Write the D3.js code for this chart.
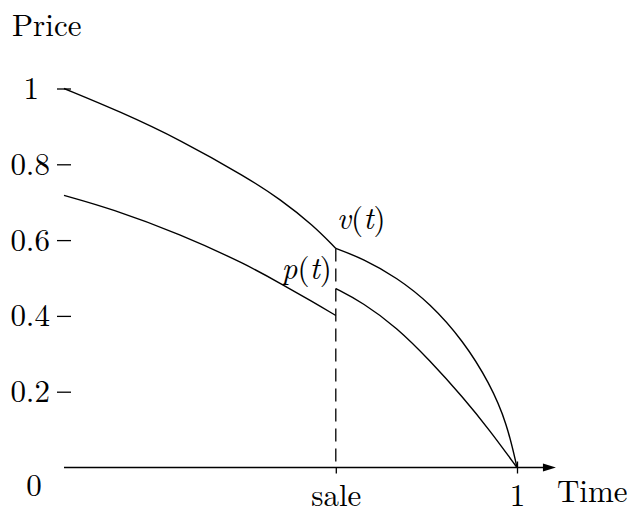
<!DOCTYPE html>
<html>
<head>
<meta charset="utf-8">
<script src="https://cdn.jsdelivr.net/npm/d3@7"></script>
<style>
  html, body { margin: 0; padding: 0; background: #fff; }
  svg { display: block; }
</style>
</head>
<body>
<svg id="chart" width="627" height="506"></svg>
<script>
// values
const SALE = 0.6;

const timeV1 = [0, 0.124, 0.256, 0.404, 0.477, 0.55, 0.6];
const valueV1 = [1.0, 0.939, 0.865, 0.765, 0.708, 0.639, 0.578];

const timeV2 = [0.6, 0.66, 0.735, 0.808, 0.881, 0.94, 0.978, 1];
const valueV2 = [0.578, 0.551, 0.501, 0.433, 0.335, 0.222, 0.116, 0];

const timeP1 = [0, 0.104, 0.256, 0.404, 0.477, 0.55, 0.6];
const valueP1 = [0.718, 0.683, 0.616, 0.535, 0.486, 0.437, 0.401];

const timeP2 = [0.6, 0.66, 0.735, 0.808, 0.881, 0.94, 1];
const valueP2 = [0.472, 0.435, 0.369, 0.282, 0.185, 0.098, 0];

const yTicks = [0.2, 0.4, 0.6, 0.8, 1];
const xTicks = [SALE, 1];
const xTickLabels = ["sale", "1"];
const X_END = 1.086; // where the arrow tip sits

const FONT = '"Latin Modern Roman", "Liberation Serif", serif';
const FONT_SIZE = "31px";

const svg = d3.select("#chart");

const x = d3.scaleLinear().domain([0, 1]).range([64, 517]);
const y = d3.scaleLinear().domain([0, 1]).range([467.5, 88.5]);

const line = d3
  .line()
  .x((d) => x(d[0]))
  .y((d) => y(d[1]))
  .curve(d3.curveBasis);

function zipSeries(ts, vs) {
  return ts.map((t, i) => [t, vs[i]]);
}

function styleText(sel) {
  return sel
    .style("font-family", FONT)
    .style("font-size", FONT_SIZE)
    .attr("fill", "#000");
}

// y ticks: short dashes, no axis line
const yAxis = svg
  .append("g")
  .attr("transform", `translate(${x(0) + 7},0)`)
  .call(
    d3
      .axisLeft(y)
      .tickValues(yTicks)
      .tickSize(14)
      .tickPadding(7)
      .tickFormat(d3.format("")),
  );
yAxis.select(".domain").remove();
yAxis.selectAll(".tick line").attr("stroke", "#000").attr("stroke-width", 1.3);
yAxis
  .selectAll(".tick text")
  .call(styleText)
  .attr("x", (d) => (d === 1 ? -32 : -21));

// x axis with arrow
svg
  .append("line")
  .attr("x1", x(0))
  .attr("x2", x(X_END) - 8)
  .attr("y1", y(0))
  .attr("y2", y(0))
  .attr("stroke", "#000")
  .attr("stroke-width", 1.3);

svg
  .append("path")
  .attr(
    "d",
    `M${x(X_END)},${y(0)} L${x(X_END) - 13},${y(0) - 4} L${x(X_END) - 13},${y(0) + 4} Z`,
  )
  .attr("fill", "#000");

const xAxis = svg
  .append("g")
  .attr("transform", `translate(0,${y(0)})`)
  .call(
    d3
      .axisBottom(x)
      .tickValues(xTicks)
      .tickSize(6)
      .tickPadding(10)
      .tickFormat((d, i) => xTickLabels[i]),
  );
xAxis.select(".domain").remove();
xAxis
  .selectAll(".tick line")
  .attr("stroke", "#000")
  .attr("stroke-width", 1.3)
  .attr("y1", (d) => (d === 1 ? -6 : 0));
xAxis.selectAll(".tick text").call(styleText);

// dashed line at the sale
svg
  .append("line")
  .attr("x1", x(SALE))
  .attr("x2", x(SALE))
  .attr("y1", y(valueV1[valueV1.length - 1]))
  .attr("y2", y(0))
  .attr("stroke", "#000")
  .attr("stroke-width", 1.3)
  .attr("stroke-dasharray", "13,7");

// curves
const series = [
  zipSeries(timeV1, valueV1),
  zipSeries(timeV2, valueV2),
  zipSeries(timeP1, valueP1),
  zipSeries(timeP2, valueP2),
];

svg
  .append("g")
  .selectAll("path")
  .data(series)
  .enter()
  .append("path")
  .attr("d", line)
  .attr("fill", "none")
  .attr("stroke", "#000")
  .attr("stroke-width", 1.4);

// labels
svg.append("text").attr("x", 12).attr("y", 36).text("Price").call(styleText);
svg
  .append("text")
  .attr("x", x(0) - 30)
  .attr("y", 496)
  .attr("text-anchor", "middle")
  .text("0")
  .call(styleText);
svg
  .append("text")
  .attr("x", x(X_END) + 1)
  .attr("y", 502)
  .text("Time")
  .call(styleText);

function mathLabel(fn, px, py, anchor) {
  const t = svg
    .append("text")
    .attr("x", px)
    .attr("y", py)
    .attr("text-anchor", anchor)
    .call(styleText);
  t.append("tspan").attr("font-style", "italic").text(fn);
  t.append("tspan").text("(");
  t.append("tspan").attr("font-style", "italic").text("t");
  t.append("tspan").text(")");
}

mathLabel("v", x(SALE) + 1, y(valueV1[valueV1.length - 1]) - 19, "start");
mathLabel("p", x(SALE) - 4, y(valueP2[0]) - 10, "end");
</script>
</body>
</html>
